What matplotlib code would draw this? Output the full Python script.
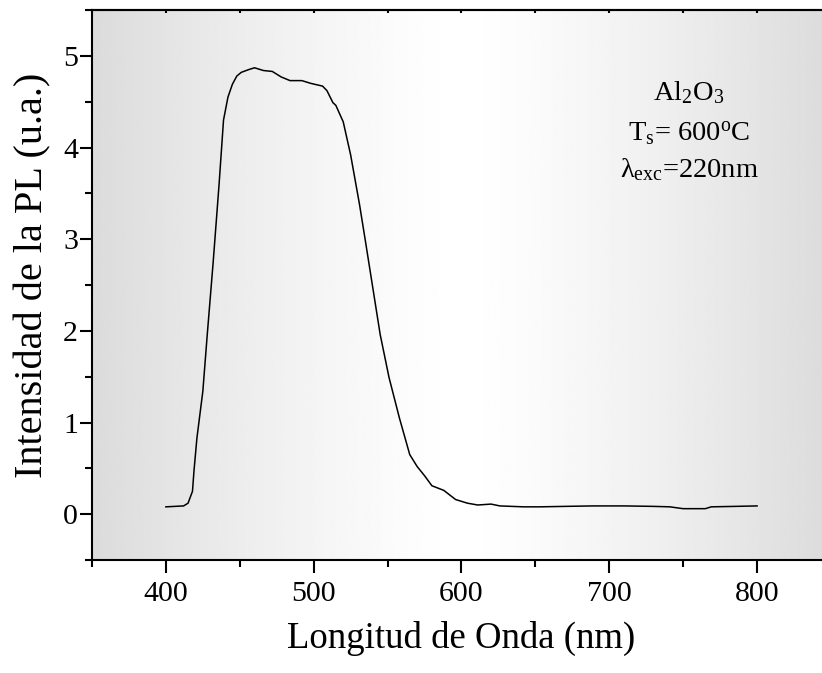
import numpy as np
import matplotlib
matplotlib.use("Agg")
import matplotlib.pyplot as plt
from matplotlib.ticker import MultipleLocator

plt.rcParams['font.family'] = ['Liberation Serif', 'DejaVu Serif']
plt.rcParams['mathtext.fontset'] = 'custom'
plt.rcParams['mathtext.rm'] = 'Liberation Serif'
plt.rcParams['mathtext.it'] = 'Liberation Serif'

# PL spectrum
wavelength = [400, 412, 415, 418, 419, 421, 425, 428, 432, 436, 439, 442, 445,
              448, 451, 456, 460, 466, 472, 478, 484, 492, 498, 506, 509, 513,
              515, 520, 525, 531, 535, 540, 545, 551, 558, 565, 570, 575, 580,
              588, 596, 604, 611, 620, 626, 642, 653, 670, 689, 710, 730, 741,
              750, 765, 769, 785, 800]
intensity = [0.08, 0.09, 0.12, 0.25, 0.47, 0.83, 1.34, 1.96, 2.75, 3.6, 4.3,
             4.55, 4.69, 4.78, 4.82, 4.85, 4.87, 4.84, 4.83, 4.77, 4.73, 4.73,
             4.70, 4.67, 4.62, 4.49, 4.46, 4.28, 3.92, 3.38, 2.98, 2.47, 1.96,
             1.49, 1.05, 0.65, 0.52, 0.42, 0.31, 0.26, 0.16, 0.12, 0.10, 0.11,
             0.09, 0.08, 0.08, 0.085, 0.09, 0.09, 0.085, 0.08, 0.06, 0.06,
             0.08, 0.085, 0.09]

fig = plt.figure(figsize=(8.22, 6.73), dpi=100)
ax = fig.add_axes([0.1119, 0.1679, 0.899, 0.8172])

xlim = (350, 850)
ylim = (-0.5, 5.5)

# grey - white - grey horizontal shading
g = np.linspace(-1, 1, 256)
shade = 1.0 - 0.14 * np.abs(g) ** 1.3
ax.imshow(shade[np.newaxis, :], extent=[xlim[0], xlim[1], ylim[0], ylim[1]],
          aspect='auto', cmap='gray', vmin=0, vmax=1, zorder=0)

ax.plot(wavelength, intensity, color='black', lw=1.1, zorder=2)

ax.set_xlim(*xlim)
ax.set_ylim(*ylim)
ax.xaxis.set_major_locator(MultipleLocator(100))
ax.xaxis.set_minor_locator(MultipleLocator(50))
ax.yaxis.set_major_locator(MultipleLocator(1))
ax.yaxis.set_minor_locator(MultipleLocator(0.5))
ax.tick_params(which='major', direction='out', length=9, width=1.5,
               labelsize=21.5)
ax.tick_params(which='minor', direction='out', length=5, width=1.5)
ax.tick_params(axis='x', which='major', pad=6)
ax.tick_params(axis='y', which='major', pad=1)
# tiny marks along the top spine
ax_top = ax.secondary_xaxis('top')
ax_top.xaxis.set_major_locator(MultipleLocator(50))
ax_top.tick_params(direction='in', length=2, width=1.5, labeltop=False)
ax_top.spines['top'].set_linewidth(1.5)

for s in ax.spines.values():
    s.set_linewidth(1.5)
ax.spines['right'].set_visible(False)

ax.set_xlabel('Longitud de Onda (nm)', fontsize=26.5, labelpad=10)
ax.set_ylabel('Intensidad de la PL (u.a.)', fontsize=29)
ax.yaxis.set_label_coords(-0.055, 0.518)

ax.text(0.808, 0.836, r'Al$_2$O$_3$', transform=ax.transAxes,
        ha='center', va='baseline', fontsize=20.5)
ax.text(0.808, 0.764, r'T$_\mathrm{s}$= 600$^\mathrm{o}$C', transform=ax.transAxes,
        ha='center', va='baseline', fontsize=20.5)
ax.text(0.808, 0.696, r'$\lambda_\mathrm{exc}$=220nm', transform=ax.transAxes,
        ha='center', va='baseline', fontsize=20.5)

fig.savefig('out.png', dpi=100)
